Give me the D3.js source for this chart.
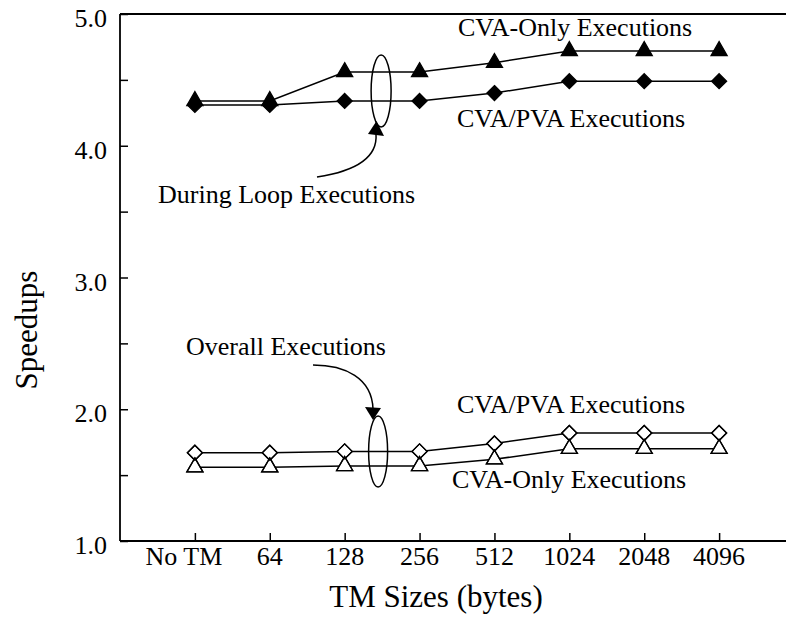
<!DOCTYPE html>
<html>
<head>
<meta charset="utf-8">
<script src="https://cdn.jsdelivr.net/npm/d3@7/dist/d3.min.js"></script>
<style>
  html, body { margin: 0; padding: 0; background: #fff; }
  svg { display: block; }
  text { font-family: "Liberation Serif", "Times New Roman", serif; fill: #000; }
</style>
</head>
<body>
<svg id="chart" width="786" height="618"></svg>
<script>
// TM sizes along the x axis
const categories = ["No TM", "64", "128", "256", "512", "1024", "2048", "4096"];

// Speedups during loop executions
const loopCvaOnly = [4.34, 4.34, 4.56, 4.56, 4.63, 4.72, 4.72, 4.72];
const loopCvaPva  = [4.31, 4.31, 4.34, 4.34, 4.40, 4.49, 4.49, 4.49];

// Speedups over the whole execution
const overallCvaPva  = [1.67, 1.67, 1.68, 1.68, 1.74, 1.82, 1.82, 1.82];
const overallCvaOnly = [1.56, 1.56, 1.57, 1.57, 1.62, 1.70, 1.70, 1.70];

// Y axis ticks (labels only on whole numbers)
const yTicks = [1.0, 1.5, 2.0, 2.5, 3.0, 3.5, 4.0, 4.5, 5.0];
const yLabels = ["1.0", "2.0", "3.0", "4.0", "5.0"];

const svg = d3.select("#chart");
const plotLeft = 120, plotTop = 14, plotBottom = 541, plotRight = 794;

const x = d3.scalePoint().domain(categories).range([plotLeft, plotRight]).padding(1);
const y = d3.scaleLinear().domain([1, 5]).range([plotBottom, plotTop]);

// Frame: left axis, top and bottom lines (right side runs off the page)
const frame = svg.append("g").attr("stroke", "#000").attr("stroke-width", 1.8).attr("fill", "none");
frame.append("line").attr("x1", plotLeft).attr("x2", plotLeft).attr("y1", plotTop).attr("y2", plotBottom);
frame.append("line").attr("x1", plotLeft).attr("x2", 800).attr("y1", plotTop).attr("y2", plotTop);
frame.append("line").attr("x1", plotLeft).attr("x2", 800).attr("y1", plotBottom).attr("y2", plotBottom);

// Y axis: inward ticks
const yAxis = d3.axisRight(y).tickValues(yTicks).tickSize(8).tickFormat("");
const gy = svg.append("g").attr("transform", `translate(${plotLeft},0)`).call(yAxis);
gy.select(".domain").remove();
gy.selectAll(".tick line").attr("stroke", "#000").attr("stroke-width", 1.5);

svg.append("g").selectAll("text").data(yLabels).join("text")
  .attr("x", 107).attr("y", d => y(+d) + 13)
  .attr("text-anchor", "end").attr("font-size", 26)
  .text(d => d);

// X axis: inward ticks
const xAxis = d3.axisTop(x).tickSize(8).tickFormat("");
const gx = svg.append("g").attr("transform", `translate(0,${plotBottom})`).call(xAxis);
gx.select(".domain").remove();
gx.selectAll(".tick line").attr("stroke", "#000").attr("stroke-width", 1.5);

svg.append("g").selectAll("text").data(categories).join("text")
  .attr("x", d => x(d) - (d === "No TM" ? 11 : 0)).attr("y", 565)
  .attr("text-anchor", "middle").attr("font-size", 26)
  .text(d => d);

// Axis titles
svg.append("text").attr("x", 436).attr("y", 607).attr("text-anchor", "middle")
  .attr("font-size", 31).text("TM Sizes (bytes)");
svg.append("text").attr("transform", "translate(37,330) rotate(-90)")
  .attr("text-anchor", "middle").attr("font-size", 31).text("Speedups");

// Series
const series = [
  { values: loopCvaOnly, shape: "triangle", filled: true },
  { values: loopCvaPva, shape: "diamond", filled: true },
  { values: overallCvaPva, shape: "diamond", filled: false },
  { values: overallCvaOnly, shape: "triangle", filled: false }
];

const line = d3.line().x((d, i) => x(categories[i])).y(d => y(d));
const triangle = d3.symbol().type(d3.symbolTriangle).size(112);
const diamond = "M0,-7.5L7.5,0L0,7.5L-7.5,0Z";
const shapePath = s => s === "triangle" ? triangle() : diamond;

svg.append("g").selectAll("path").data(series).join("path")
  .attr("d", s => line(s.values))
  .attr("fill", "none").attr("stroke", "#000").attr("stroke-width", 1.5);

// Markers: fill pass, then outline pass so overlapping open markers show both outlines
series.forEach(s => {
  svg.append("g").selectAll("path").data(s.values).join("path")
    .attr("transform", (d, i) => `translate(${x(categories[i])},${y(d)})`)
    .attr("d", shapePath(s.shape))
    .attr("fill", s.filled ? "#000" : "#fff")
    .attr("stroke", "#000").attr("stroke-width", 1.3);
});
series.filter(s => !s.filled).forEach(s => {
  svg.append("g").selectAll("path").data(s.values).join("path")
    .attr("transform", (d, i) => `translate(${x(categories[i])},${y(d)})`)
    .attr("d", shapePath(s.shape))
    .attr("fill", "none")
    .attr("stroke", "#000").attr("stroke-width", 1.3);
});

// Annotations
const ann = svg.append("g").attr("font-size", 26);
ann.append("text").attr("x", 458).attr("y", 36).text("CVA-Only Executions");
ann.append("text").attr("x", 457).attr("y", 127).text("CVA/PVA Executions");
ann.append("text").attr("x", 158).attr("y", 203).text("During Loop Executions");
ann.append("text").attr("x", 186).attr("y", 355).text("Overall Executions");
ann.append("text").attr("x", 457).attr("y", 413).text("CVA/PVA Executions");
ann.append("text").attr("x", 452).attr("y", 488).text("CVA-Only Executions");

// Ellipses grouping the two series between 128 and 256
const midX = (x("128") + x("256")) / 2;
const ell = svg.append("g").attr("fill", "none").attr("stroke", "#000").attr("stroke-width", 1.5);
ell.append("ellipse").attr("cx", midX - 1).attr("cy", 91).attr("rx", 10).attr("ry", 36);
ell.append("ellipse").attr("cx", midX - 4).attr("cy", 451.5).attr("rx", 9.5).attr("ry", 35.5);

// Curved pointers with arrowheads
const arrows = svg.append("g");
arrows.append("path").attr("d", "M317,177 C350,172 378,160 376,134")
  .attr("fill", "none").attr("stroke", "#000").attr("stroke-width", 1.5);
arrows.append("path").attr("d", "M376.5,121 L384,136 L368,134 Z").attr("fill", "#000");
arrows.append("path").attr("d", "M313,365 C345,365 372,378 373,409")
  .attr("fill", "none").attr("stroke", "#000").attr("stroke-width", 1.5);
arrows.append("path").attr("d", "M373,420 L365,407 L381,408 Z").attr("fill", "#000");
</script>
</body>
</html>
